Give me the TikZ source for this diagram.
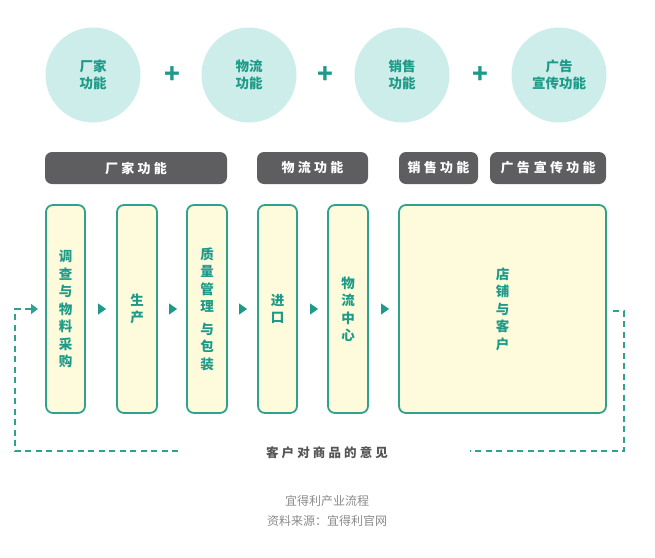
\documentclass[tikz,border=0pt]{standalone}
\usepackage{fontspec}
\setmainfont{Noto Sans CJK SC}
\newfontfamily\cjkwide{Noto Sans CJK SC}[LetterSpace=25]
\usetikzlibrary{shapes.geometric,arrows.meta}
\definecolor{teal1}{HTML}{1E9A88}
\definecolor{circfill}{HTML}{CDEDEA}
\definecolor{barfill}{HTML}{5E5D60}
\definecolor{boxfill}{HTML}{FDFBDC}
\definecolor{boxline}{HTML}{2EA28F}
\definecolor{fbtext}{HTML}{555555}
\definecolor{captext}{HTML}{8A8A8A}
\tikzset{
  func/.style={circle, fill=circfill, minimum size=95pt, inner sep=0pt, text=teal1, font=\fontsize{13.5}{17}\selectfont\bfseries, align=center},
  plus/.style={text=teal1, font=\fontsize{26}{26}\selectfont\bfseries, inner sep=0pt},
  bar/.style={rounded corners=7pt, fill=barfill, text=white, minimum height=32pt, inner sep=0pt, font=\fontsize{13}{15}\cjkwide\bfseries},
  stage/.style={rounded corners=7pt, draw=boxline, line width=1.8pt, fill=boxfill, minimum height=208pt, inner sep=0pt, text=teal1, font=\fontsize{13.5}{17.5}\selectfont\bfseries, align=center},
  tri/.style={isosceles triangle, isosceles triangle apex angle=70, fill=teal1, inner sep=0pt, minimum height=8pt, minimum width=10pt},
  loopline/.style={draw=boxline, line width=1.6pt, dash pattern=on 6pt off 4.5pt},
}
\begin{document}
\begin{tikzpicture}[x=1pt,y=-1pt]
\useasboundingbox (0,0) rectangle (655,557);
% top circles
\node[func] (c1) at (93,75) {厂家\\功能};
\node[func] (c2) at (249,75) {物流\\功能};
\node[func] (c3) at (402,75) {销售\\功能};
\node[func] (c4) at (559,75) {广告\\宣传功能};
\node[plus] (p1) at (172,75) {+};
\node[plus] (p2) at (325,75) {+};
\node[plus] (p3) at (480,75) {+};
% header bars
\node[bar, minimum width=182pt] (h1) at (136,168) {厂家功能};
\node[bar, minimum width=111pt] (h2) at (312.5,168) {物流功能};
\node[bar, minimum width=79pt] (h3) at (438.5,168) {销售功能};
\node[bar, minimum width=116pt] (h4) at (548,168) {广告\hspace{4pt}宣传功能};
% stage boxes
\node[stage, minimum width=39pt] (b1) at (65.5,309) {调\\查\\与\\物\\料\\采\\购};
\node[stage, minimum width=40pt] (b2) at (137,309) {生\\产};
\node[stage, minimum width=40pt] (b3) at (207,309) {质\\量\\管\\理\\[5pt]与\\包\\装};
\node[stage, minimum width=39pt] (b4) at (277.5,309) {进\\口};
\node[stage, minimum width=40pt] (b5) at (348,309) {物\\流\\中\\心};
\node[stage, minimum width=207pt] (b6) at (502.5,309) {店\\铺\\与\\客\\户};
% arrows between boxes
\node[tri] (t1) at (101,309) {};
\node[tri] (t2) at (172,309) {};
\node[tri] (t3) at (242,309) {};
\node[tri] (t4) at (313,309) {};
\node[tri] (t5) at (384,309) {};
% feedback loop
\node[text=fbtext, font=\fontsize{12.5}{14}\cjkwide\bfseries, inner sep=0pt] (fb) at (327,453) {客户对商品的意见};
\coordinate (rs) at (613,311);
\coordinate (rc1) at (624,311);
\coordinate (rc2) at (624,451);
\coordinate (re) at (470,451);
\coordinate (ls) at (178,451);
\coordinate (lc1) at (15,451);
\coordinate (lc2) at (15,309);
\coordinate (la) at (38,309);
\draw[loopline] (rs) -- (rc1) -- (rc2) -- (re);
\draw[loopline, -{Triangle[length=7pt,width=10pt]}] (ls) -- (lc1) -- (lc2) -- (la);
% caption
\node[text=captext, font=\fontsize{12}{20}\selectfont, align=center, inner sep=0pt] (cap) at (327,511) {宜得利产业流程\\资料来源：宜得利官网};
\end{tikzpicture}
\end{document}
